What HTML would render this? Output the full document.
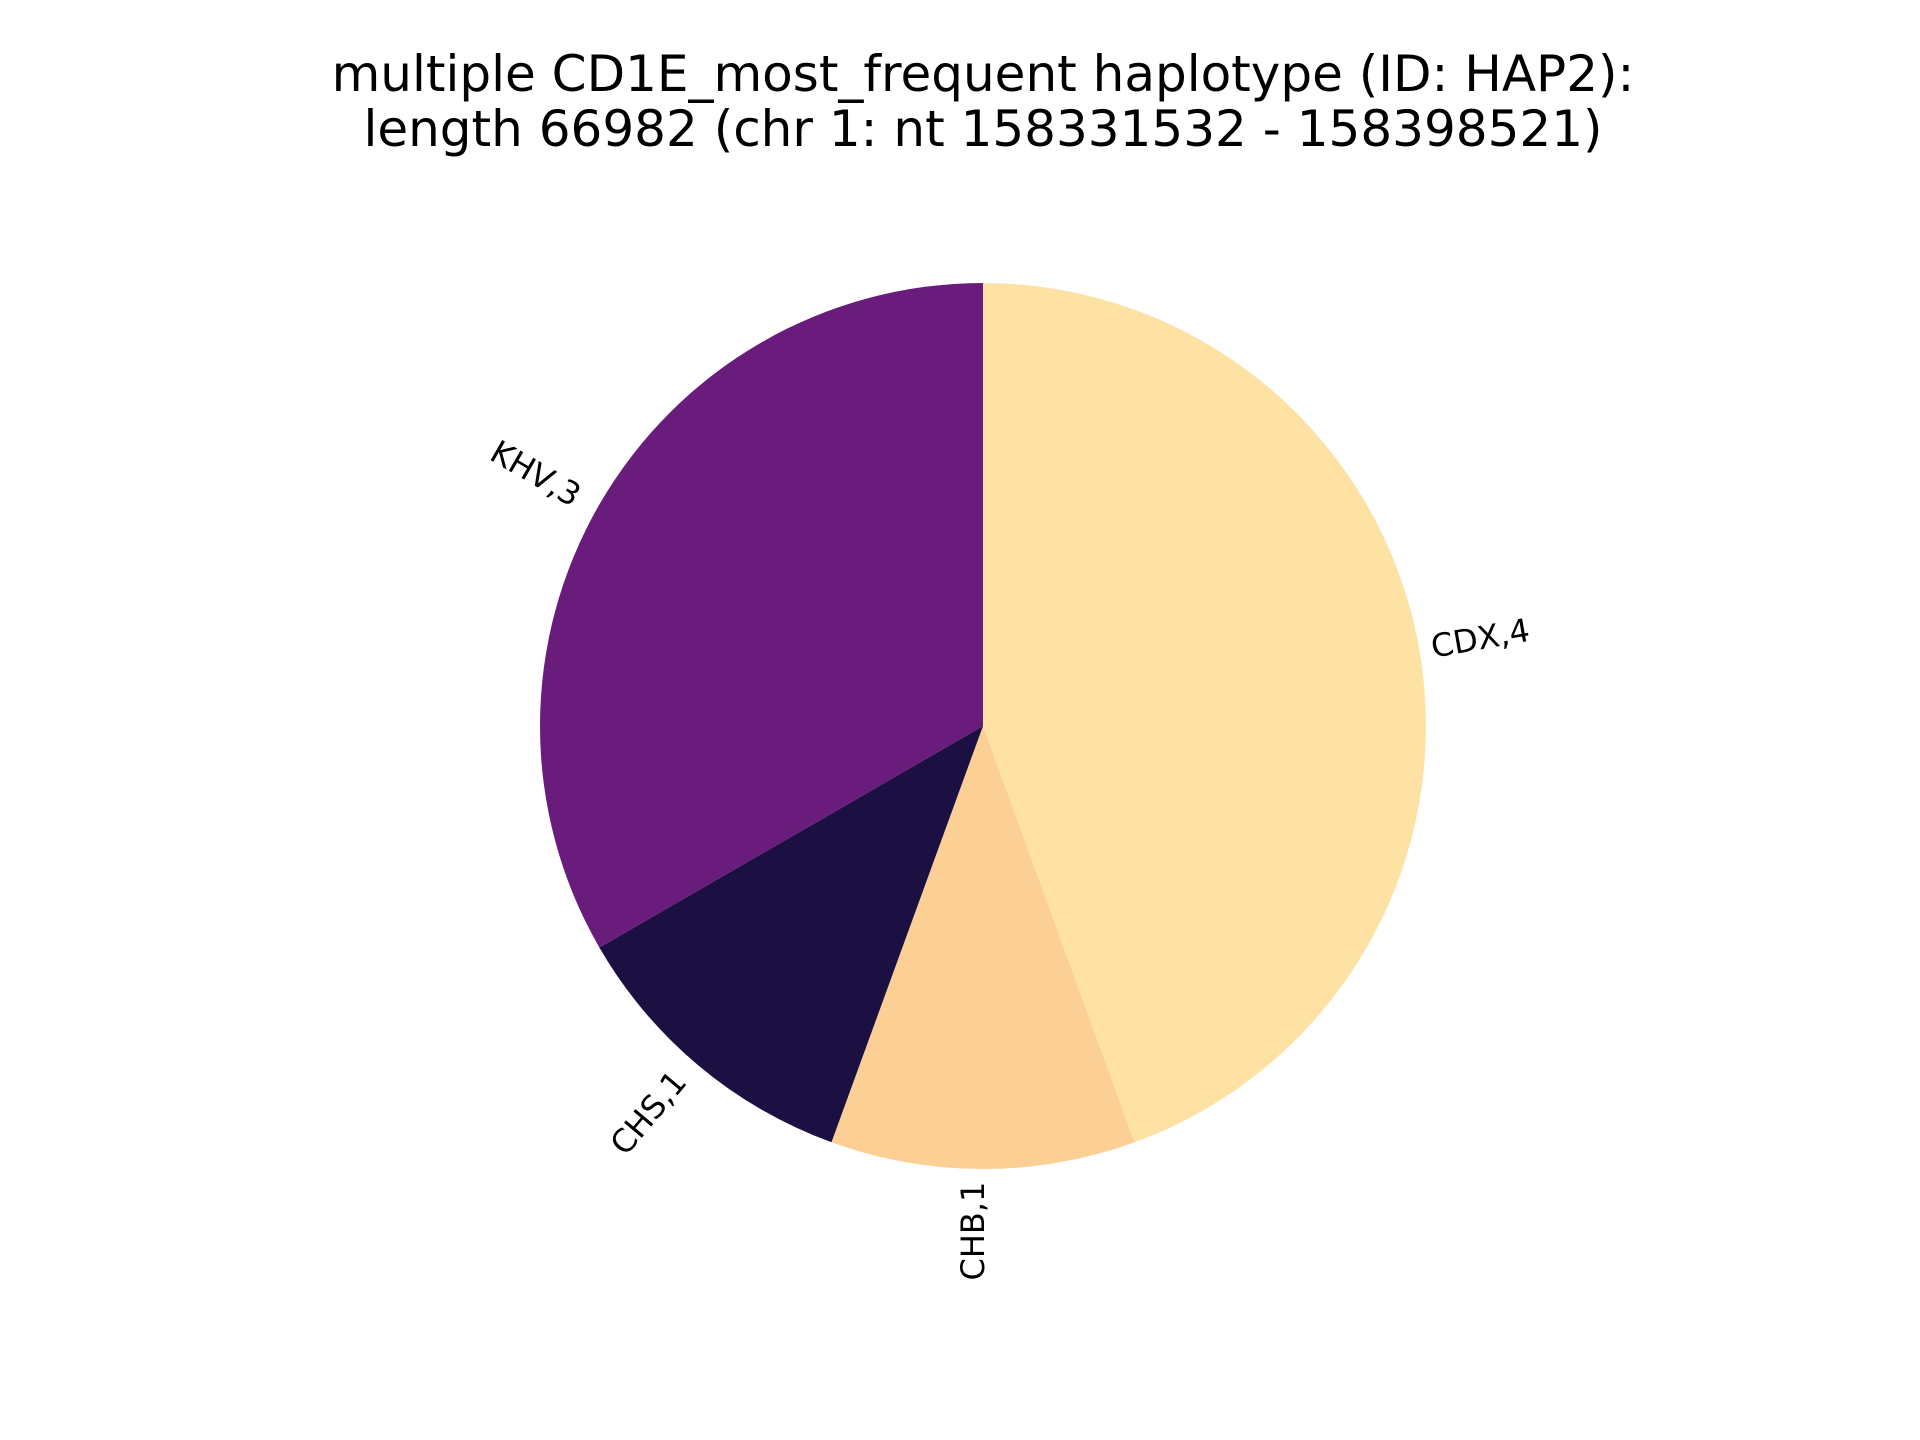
<!DOCTYPE html>
<html><head><meta charset="utf-8"><style>
body{margin:0;background:#fff}
svg{display:block;font-family:"DejaVu Sans","Liberation Sans",sans-serif}
</style></head><body>
<svg id="chart" width="1920" height="1440" viewBox="0 0 1920 1440">
<text x="983" y="91" font-size="50" text-anchor="middle" fill="#000">multiple CD1E_most_frequent haplotype (ID: HAP2):</text>
<text x="983" y="146" font-size="50" text-anchor="middle" fill="#000">length 66982 (chr 1: nt 158331532 - 158398521)</text>
<g id="slices"></g>
</svg>
<script>
const categories = ["CDX", "CHB", "CHS", "KHV"];
const counts = [4, 1, 1, 3];
const colors = ["#fde2a3", "#fcd095", "#1c1042", "#6a1c7d"];
const cx = 983, cy = 726, r = 443;
const ns = "http://www.w3.org/2000/svg";
const g = document.getElementById("slices");
const total = counts.reduce((a, b) => a + b, 0);
let start = 90;
function pt(a, rr) { const t = a * Math.PI / 180; return [cx + rr * Math.cos(t), cy - rr * Math.sin(t)]; }
categories.forEach((c, i) => {
  const sweep = counts[i] / total * 360;
  const end = start - sweep;
  const p1 = pt(start, r), p2 = pt(end, r);
  const large = sweep > 180 ? 1 : 0;
  const path = document.createElementNS(ns, "path");
  path.setAttribute("d", `M${cx},${cy} L${p1[0]},${p1[1]} A${r},${r} 0 ${large} 1 ${p2[0]},${p2[1]} Z`);
  path.setAttribute("fill", colors[i]);
  
  
  g.appendChild(path);
  const mid = (start + end) / 2;
  const lp = pt(mid, r * 1.14);
  let rot = ((mid % 360) + 360) % 360;
  if (rot >= 90 && rot <= 270) { rot -= 180; lp[0] -= 10; }
  const t = document.createElementNS(ns, "text");
  t.setAttribute("x", lp[0]); t.setAttribute("y", lp[1]);
  t.setAttribute("font-size", "32");
  t.setAttribute("text-anchor", "middle");
  t.setAttribute("dominant-baseline", "central");
  t.setAttribute("transform", `rotate(${-rot} ${lp[0]} ${lp[1]})`);
  t.textContent = c + "," + counts[i];
  
  
  g.appendChild(t);
  start = end;
});
</script>
</body></html>
